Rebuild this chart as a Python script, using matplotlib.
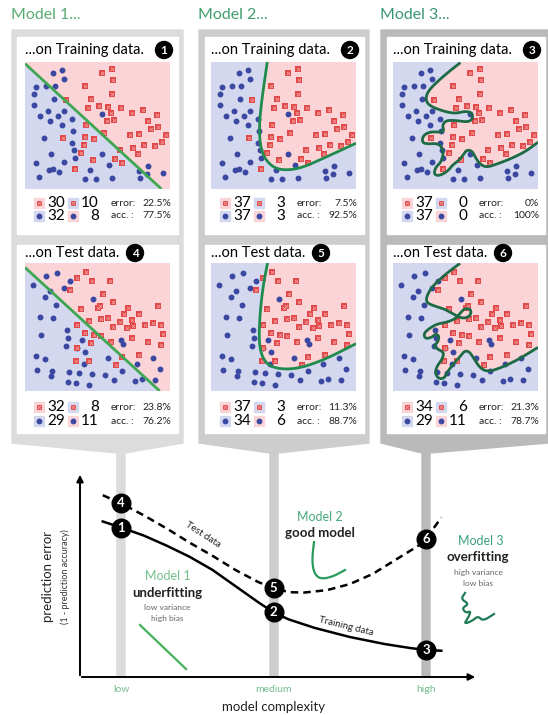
import matplotlib
matplotlib.use('Agg')
import matplotlib.pyplot as plt
from matplotlib.patches import Rectangle, Polygon, Circle
import numpy as np

plt.rcParams['font.family'] = ['Lato', 'DejaVu Sans']

# ---------------- data ----------------
# training points (read in panel units: x 15..440 left->right, y 25..400 top->bottom)
train_blue_x = [97,122,130,48,78,104,40,100,42,82,58,112,128,88,152,124,240,157,72,153,158,92,163,240,48,130,85,98,115,205,262,55,192,222,270,348,375,372,420,352]
train_blue_y = [58,48,76,100,95,97,120,133,153,170,185,185,170,200,193,210,180,228,248,265,285,297,307,297,322,320,345,340,350,343,330,365,370,370,367,348,332,355,352,367]
train_red_x = [242,270,272,190,270,135,208,200,232,257,268,296,255,275,330,362,403,375,195,246,322,348,383,405,428,125,192,218,187,333,365,395,417,178,292,345,215,278,298,163]
train_red_y = [58,45,78,95,120,137,133,162,155,157,177,162,200,195,177,168,182,198,210,235,240,237,222,218,240,250,245,252,270,278,270,272,262,293,285,298,315,310,322,342]

test_blue_x = [78,108,38,130,147,88,75,213,105,58,97,138,63,140,182,135,168,190,295,302,258,48,75,187,50,95,90,145,172,210,250,298,342,390,412,140,165,202,275,338,358,395]
test_blue_y = [62,55,90,97,78,108,125,130,147,183,187,220,235,245,250,268,275,285,250,262,302,298,305,320,338,340,355,345,347,350,353,340,322,302,335,375,378,382,368,372,365,368]
test_red_x = [167,193,210,265,148,245,272,235,228,178,318,405,305,350,203,237,258,292,328,168,272,315,333,368,390,415,190,217,237,328,420,208,268,375,415,168,350,298,165,203,283]
test_red_y = [68,52,78,77,105,115,140,150,158,160,158,150,175,175,195,190,185,197,192,208,213,215,210,207,200,208,230,235,240,245,232,258,255,255,265,273,295,300,312,312,325]

# decision boundaries (fractions of panel, x left->right, y bottom->top)
m1_train_bx = [0.0, 0.941]
m1_train_by = [0.987, 0.0]
m1_test_bx = [0.0, 0.929]
m1_test_by = [0.965, 0.0]
m2_train_bx = [0.388, 0.349, 0.331, 0.345, 0.406, 0.486, 0.612, 0.772, 1.0]
m2_train_by = [1.0, 0.693, 0.48, 0.293, 0.187, 0.147, 0.16, 0.24, 0.36]
m2_test_bx = [0.39, 0.356, 0.333, 0.333, 0.379, 0.471, 0.609, 0.793, 1.0]
m2_test_by = [1.0, 0.80, 0.54, 0.33, 0.21, 0.17, 0.176, 0.25, 0.37]
m3_train_bx = [0.465,0.399,0.317,0.246,0.223,0.246,0.329,0.423,0.505,0.545,0.552,0.516,0.434,0.364,0.340,0.352,0.329,0.258,0.207,0.200,0.235,0.305,0.340,0.347,0.329,0.293,0.282,0.317,0.376,0.411,0.451,0.481,0.505,0.545,0.568,0.599,0.646,0.728,0.822,0.915,1.0]
m3_train_by = [0.995,0.937,0.857,0.778,0.712,0.659,0.619,0.593,0.614,0.598,0.553,0.526,0.540,0.540,0.500,0.460,0.447,0.452,0.421,0.368,0.354,0.360,0.328,0.262,0.209,0.169,0.116,0.103,0.138,0.190,0.222,0.262,0.307,0.302,0.249,0.196,0.169,0.201,0.243,0.296,0.368]
m3_test_bx = [0.462,0.399,0.329,0.270,0.235,0.228,0.270,0.352,0.411,0.481,0.533,0.540,0.500,0.469,0.439,0.376,0.305,0.246,0.211,0.223,0.270,0.293,0.317,0.312,0.282,0.305,0.352,0.340,0.305,0.289,0.312,0.352,0.376,0.415,0.458,0.493,0.528,0.563,0.603,0.657,0.751,0.869,1.0]
m3_test_by = [0.997,0.945,0.879,0.814,0.748,0.696,0.669,0.643,0.604,0.564,0.585,0.635,0.648,0.617,0.570,0.538,0.525,0.486,0.446,0.407,0.420,0.446,0.433,0.386,0.354,0.328,0.302,0.249,0.197,0.144,0.097,0.097,0.150,0.210,0.262,0.315,0.307,0.244,0.176,0.150,0.184,0.249,0.341]

model_titles = ['Model 1...', 'Model 2...', 'Model 3...']
train_counts = [(30, 10, 32, 8), (37, 3, 37, 3), (37, 0, 37, 0)]
train_error = ['22.5%', '7.5%', '0%']
train_acc = ['77.5%', '92.5%', '100%']
test_counts = [(32, 8, 29, 11), (37, 3, 34, 6), (34, 6, 29, 11)]
test_error = ['23.8%', '11.3%', '21.3%']
test_acc = ['76.2%', '88.7%', '78.7%']

complexity_labels = ['low', 'medium', 'high']
complexity_pos = [1, 2, 3]
train_curve_x = [0.88, 1.0, 1.15, 1.3, 1.45, 1.6, 1.75, 1.9, 2.0, 2.1, 2.27, 2.5, 2.73, 2.9, 3.0, 3.1]
train_curve_y = [0.77, 0.74, 0.70, 0.65, 0.595, 0.53, 0.45, 0.37, 0.32, 0.285, 0.243, 0.198, 0.163, 0.143, 0.134, 0.13]
test_curve_x = [0.88, 1.0, 1.15, 1.3, 1.45, 1.6, 1.75, 1.9, 2.0, 2.1, 2.2, 2.35, 2.5, 2.65, 2.8, 2.95, 3.0, 3.1]
test_curve_y = [0.90, 0.86, 0.80, 0.735, 0.665, 0.60, 0.53, 0.47, 0.44, 0.42, 0.418, 0.43, 0.46, 0.51, 0.58, 0.65, 0.683, 0.79]

# small icons (pixel coords)
icon1_x = [140, 186]; icon1_y = [625, 669]
icon2_x = [314, 312, 314, 320, 332, 345]; icon2_y = [542, 560, 573, 579, 577, 570]
icon3_x = [465, 461, 469, 462, 466, 471, 468, 464, 472, 478, 483, 494]
icon3_y = [593, 599, 604, 608, 613, 611, 618, 624, 621, 616, 621, 614]

# ---------------- style ----------------
W, H = 548, 715
PINK = '#fad4d7'
BLUE = '#d3d8ef'
DOT = '#3b48a2'
RED = '#e24a4a'
GREEN_T = ['#5aab72', '#3f9f6e', '#3a9672']
BOUND_C = ['#3fa652', '#1f8c4e', '#1c6b45']
FRAME_C = ['#dcdcdc', '#cdcdcd', '#bababa']
frames = [(12, 183), (199, 369), (381, 548)]   # frame x extents
cards = [(17, 178), (205, 364), (387, 545)]
scat = [(25, 170), (211, 356), (393, 538)]
bar_x = [121, 274, 426]

fig = plt.figure(figsize=(W / 100, H / 100), dpi=100)
bg = fig.add_axes([0, 0, 1, 1])
bg.set_xlim(0, W); bg.set_ylim(H, 0); bg.axis('off')


def px_axes(x0, y0, x1, y1):
    return fig.add_axes([x0 / W, 1 - y1 / H, (x1 - x0) / W, (y1 - y0) / H])


def chaikin(x, y, n=3):
    p = np.column_stack([x, y]).astype(float)
    for _ in range(n):
        q = 0.75 * p[:-1] + 0.25 * p[1:]
        r = 0.25 * p[:-1] + 0.75 * p[1:]
        mid = np.empty((2 * len(q), 2)); mid[0::2] = q; mid[1::2] = r
        p = np.vstack([p[:1], mid, p[-1:]])
    return p[:, 0], p[:, 1]


def badge(x, y, n, r=8.5, fs=8.5):
    bg.add_patch(Circle((x, y), r, color='black', zorder=5))
    bg.text(x, y + 0.5, str(n), color='white', fontsize=fs, fontweight='bold',
            ha='center', va='center', zorder=6)


def scatter_panel(box, bx, by, kind, color, bluex, bluey, redx, redy):
    ax = px_axes(*box)
    ax.set_xlim(15, 440); ax.set_ylim(400, 25)
    ax.set_xticks([]); ax.set_yticks([])
    for s in ax.spines.values():
        s.set_visible(False)
    if kind == 'line':
        ax.set_facecolor(PINK)
        poly = list(zip(bx, by)) + [(0, 0)]
        ax.add_patch(Polygon(poly, closed=True, transform=ax.transAxes, color=BLUE, zorder=0))
        sx, sy = bx, by
    else:
        ax.set_facecolor(BLUE)
        sx, sy = chaikin(bx, by, 3)
        poly = list(zip(sx, sy)) + [(1, 1)]
        ax.add_patch(Polygon(poly, closed=True, transform=ax.transAxes, color=PINK, zorder=0))
    ax.scatter(bluex, bluey, s=18, color=DOT, zorder=2, linewidths=0)
    ax.scatter(redx, redy, s=13, marker='s', color=RED, zorder=2, linewidths=0)
    ax.scatter(redx, redy, s=5, marker='x', color='#f6a9a9', zorder=2, linewidths=0.5)
    ax.plot(sx, sy, color=color, lw=2.0, transform=ax.transAxes, zorder=3,
            solid_capstyle='butt', solid_joinstyle='round')


def legend_rows(R, y1, y2, counts, err, acc):
    rc, rw, bc, bw = counts
    for (xc, y, fc, mk) in [(R - 131, y1, PINK, 'r'), (R - 97, y1, BLUE, 'r'),
                            (R - 131, y2, BLUE, 'b'), (R - 97, y2, PINK, 'b')]:
        bg.add_patch(Rectangle((xc - 5, y - 5), 10, 10, color=fc, zorder=3))
        if mk == 'r':
            bg.plot([xc], [y], marker='s', ms=3.6, color=RED, zorder=4, mew=0)
            bg.plot([xc], [y], marker='x', ms=2.2, color='#f6a9a9', zorder=4, mew=0.5)
        else:
            bg.plot([xc], [y], marker='o', ms=4.2, color=DOT, zorder=4, mew=0)
    fs = 11
    bg.text(R - 123, y1, str(rc), fontsize=fs, ha='left', va='center', zorder=4)
    bg.text(R - 71, y1, str(rw), fontsize=fs, ha='right', va='center', zorder=4)
    bg.text(R - 123, y2, str(bc), fontsize=fs, ha='left', va='center', zorder=4)
    bg.text(R - 71, y2, str(bw), fontsize=fs, ha='right', va='center', zorder=4)
    bg.text(R - 59, y1, 'error:', fontsize=7.5, ha='left', va='center', zorder=4, color='#222222')
    bg.text(R + 1, y1, err, fontsize=7.5, ha='right', va='center', zorder=4, color='#222222')
    bg.text(R - 59, y2, 'acc. :', fontsize=7.5, ha='left', va='center', zorder=4, color='#222222')
    bg.text(R + 1, y2, acc, fontsize=7.5, ha='right', va='center', zorder=4, color='#222222')


train_b = [(m1_train_bx, m1_train_by, 'line'), (m2_train_bx, m2_train_by, 'curve'), (m3_train_bx, m3_train_by, 'curve')]
test_b = [(m1_test_bx, m1_test_by, 'line'), (m2_test_bx, m2_test_by, 'curve'), (m3_test_bx, m3_test_by, 'curve')]

for c in range(3):
    fx0, fx1 = frames[c]
    cx0, cx1 = cards[c]
    sx0, sx1 = scat[c]
    bx = bar_x[c]
    # frame with taper and connector bar
    frame_poly = [(fx0, 30), (fx1, 30), (fx1, 443), (bx + 4, 453), (bx + 4, 677),
                  (bx - 4, 677), (bx - 4, 453), (fx0, 443)]
    bg.add_patch(Polygon(frame_poly, closed=True, color=FRAME_C[c], zorder=1))
    bg.add_patch(Rectangle((cx0, 37), cx1 - cx0, 197, color='white', zorder=2))
    bg.add_patch(Rectangle((cx0, 245), cx1 - cx0, 188, color='white', zorder=2))
    bg.text(fx0 - 1, 15, model_titles[c], fontsize=11.5, color=GREEN_T[c], ha='left', va='center')
    # titles
    bg.text(sx0, 50, '...on Training data.', fontsize=10.5, ha='left', va='center', zorder=3)
    badge(sx1 - 6, 50, c + 1)
    bg.text(sx0, 253, '...on Test data.', fontsize=10.5, ha='left', va='center', zorder=3)
    badge(sx0 + 110, 253, c + 4)
    # panels
    b = train_b[c]
    scatter_panel((sx0, 62, sx1, 189), b[0], b[1], b[2], BOUND_C[c],
                  train_blue_x, train_blue_y, train_red_x, train_red_y)
    b = test_b[c]
    scatter_panel((sx0, 263, sx1, 391), b[0], b[1], b[2], BOUND_C[c],
                  test_blue_x, test_blue_y, test_red_x, test_red_y)
    legend_rows(sx1, 203, 216, train_counts[c], train_error[c], train_acc[c])
    legend_rows(sx1, 407, 421, test_counts[c], test_error[c], test_acc[c])

# ---------------- bottom chart ----------------
ch = px_axes(80, 475, 475, 677)
ch.patch.set_alpha(0)
ch.set_xlim(0.731, 3.321); ch.set_ylim(0, 1)
ch.axis('off')
ch.plot(train_curve_x, train_curve_y, color='black', lw=1.8, solid_joinstyle='round', zorder=3)
ch.plot(test_curve_x, test_curve_y, color='black', lw=1.8, ls=(0, (3, 2)), zorder=3)
for i, p in enumerate(complexity_pos):
    ytr = train_curve_y[train_curve_x.index(p)]
    yte = test_curve_y[test_curve_x.index(p)]
    for (yy, n) in [(ytr, i + 1), (yte, i + 4)]:
        ch.scatter([p], [yy], s=180, color='black', zorder=5)
        ch.text(p, yy, str(n), color='white', fontsize=9.5, fontweight='bold',
                ha='center', va='center', zorder=6)

# axes arrows
bg.annotate('', xy=(80, 472), xytext=(80, 678),
            arrowprops=dict(arrowstyle='-|>', color='black', lw=1.4, mutation_scale=10), zorder=4)
bg.annotate('', xy=(478, 677), xytext=(79, 677),
            arrowprops=dict(arrowstyle='-|>', color='black', lw=1.4, mutation_scale=10), zorder=4)

for lab, bx in zip(complexity_labels, bar_x):
    bg.text(bx, 689, lab, fontsize=7.5, color='#76bd8c', ha='center', va='center')
bg.text(274, 707, 'model complexity', fontsize=9.5, color='#222222', ha='center', va='center')
bg.text(48, 577, 'prediction error', fontsize=9.5, color='#222222', rotation=90, ha='center', va='center')
bg.text(65, 577, '(1 - prediction accuracy)', fontsize=6.5, color='#333333', rotation=90, ha='center', va='center')

bg.text(203, 535, 'Test data', fontsize=7, rotation=-33, ha='center', va='center', color='#222222')
bg.text(346, 626, 'Training data', fontsize=7, rotation=-14, ha='center', va='center', color='#222222')

bg.text(168, 576, 'Model 1', fontsize=9, color='#74c08c', ha='center', va='center')
bg.text(167, 593, 'underfitting', fontsize=9.5, fontweight='bold', color='#222222', ha='center', va='center')
bg.text(167, 607, 'low variance', fontsize=6, color='#666666', ha='center', va='center')
bg.text(167, 619, 'high bias', fontsize=6, color='#666666', ha='center', va='center')

bg.text(320, 517, 'Model 2', fontsize=9, color='#47a97b', ha='center', va='center')
bg.text(320, 533, 'good model', fontsize=9.5, fontweight='bold', color='#222222', ha='center', va='center')

bg.text(481, 541, 'Model 3', fontsize=9, color='#3b9f7d', ha='center', va='center')
bg.text(478, 557, 'overfitting', fontsize=9.5, fontweight='bold', color='#222222', ha='center', va='center')
bg.text(478, 572, 'high variance', fontsize=6, color='#666666', ha='center', va='center')
bg.text(478, 584, 'low bias', fontsize=6, color='#666666', ha='center', va='center')

bg.plot(icon1_x, icon1_y, color='#46b05a', lw=1.6)
ix, iy = chaikin(icon2_x, icon2_y, 2)
bg.plot(ix, iy, color='#2a9a5f', lw=1.6)
ix, iy = chaikin(icon3_x, icon3_y, 2)
bg.plot(ix, iy, color='#1e7a55', lw=1.6)

fig.savefig('out.png', dpi=100)
